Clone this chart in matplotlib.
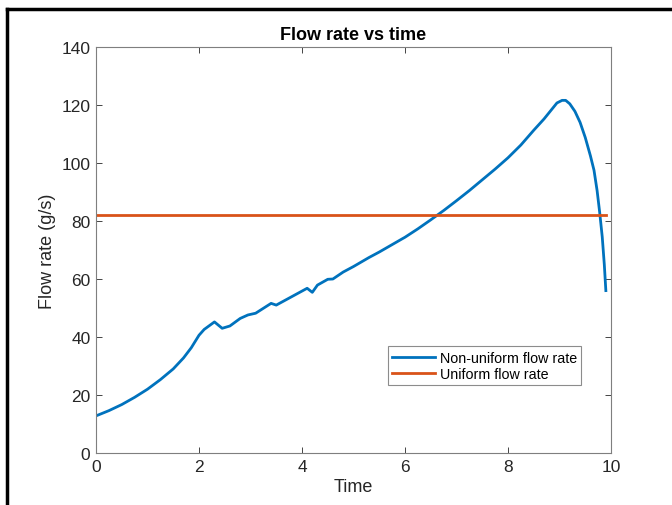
import matplotlib
matplotlib.use("Agg")
import matplotlib.pyplot as plt
from matplotlib.lines import Line2D

plt.rcParams["font.family"] = ["Liberation Sans", "DejaVu Sans"]

# data
time = [0, 0.25, 0.5, 0.75, 1.0, 1.25, 1.5, 1.7, 1.85, 2.0, 2.1, 2.3, 2.45, 2.6,
        2.8, 2.95, 3.1, 3.4, 3.5, 3.8, 4.1, 4.2, 4.3, 4.5, 4.6, 4.8, 5.0, 5.3, 5.5,
        5.95, 6.0, 6.25, 6.5, 6.75, 7.0, 7.25, 7.5, 7.75, 8.0, 8.25, 8.5, 8.7, 8.85,
        8.95, 9.05, 9.12, 9.2, 9.3, 9.4, 9.5, 9.6, 9.67, 9.73, 9.78, 9.83, 9.87, 9.9]
flow = [12.8, 14.6, 16.7, 19.2, 22.0, 25.3, 29.0, 32.8, 36.3, 40.6, 42.6, 45.2, 43.0,
        43.8, 46.4, 47.6, 48.2, 51.6, 51.0, 53.9, 56.8, 55.4, 57.9, 59.9, 60.0, 62.4,
        64.3, 67.4, 69.3, 73.9, 74.4, 77.3, 80.4, 83.6, 87.0, 90.5, 94.2, 97.9, 101.8,
        106.2, 111.3, 115.2, 118.5, 120.7, 121.6, 121.6, 120.4, 117.8, 114.0, 108.8,
        102.5, 97.5, 90.5, 83.0, 74.5, 65.0, 56.0]
uniform_flow = 82.2
t_end = 9.9

blue = "#0072BD"
orange = "#D95319"
grey = "#262626"

fig = plt.figure(figsize=(6.72, 5.06), dpi=100)
ax = fig.add_axes([96 / 672, 1 - 454 / 506, 515 / 672, 406 / 506])

ax.plot(time, flow, color=blue, lw=2.0, label="Non-uniform flow rate")
ax.plot([0, t_end], [uniform_flow, uniform_flow], color=orange, lw=2.0,
        label="Uniform flow rate")

ax.set_xlim(0, 10)
ax.set_ylim(0, 140)
ax.set_xticks(range(0, 11, 2))
ax.set_yticks(range(0, 141, 20))
ax.tick_params(direction="in", top=True, right=True, length=4, width=0.6,
               colors=grey, labelsize=12.5, pad=4)
for s in ax.spines.values():
    s.set_color("#7f7f7f")
    s.set_linewidth(0.8)

ax.set_xlabel("Time", fontsize=13, color=grey, labelpad=3)
ax.set_ylabel("Flow rate (g/s)", fontsize=13, color=grey, labelpad=4)
ax.set_title("Flow rate vs time", fontsize=13, fontweight="bold", pad=6)

leg = ax.legend(loc="lower left", bbox_to_anchor=(0.567, 0.167), fontsize=10.3,
                frameon=True, fancybox=False, framealpha=1, edgecolor="#8c8c8c",
                handlelength=3.0, handletextpad=0.3, borderpad=0.3,
                labelspacing=0.15, borderaxespad=0)
leg.get_frame().set_linewidth(0.8)

# black frame lines from the screenshot edge
fig.add_artist(Line2D([7 / 672, 1], [1 - 10 / 506, 1 - 10 / 506], color="black",
                      lw=2.5, transform=fig.transFigure))
fig.add_artist(Line2D([7 / 672, 7 / 672], [0, 1 - 10 / 506], color="black",
                      lw=2.5, transform=fig.transFigure))

fig.savefig("out.png", dpi=100)
plt.close(fig)
